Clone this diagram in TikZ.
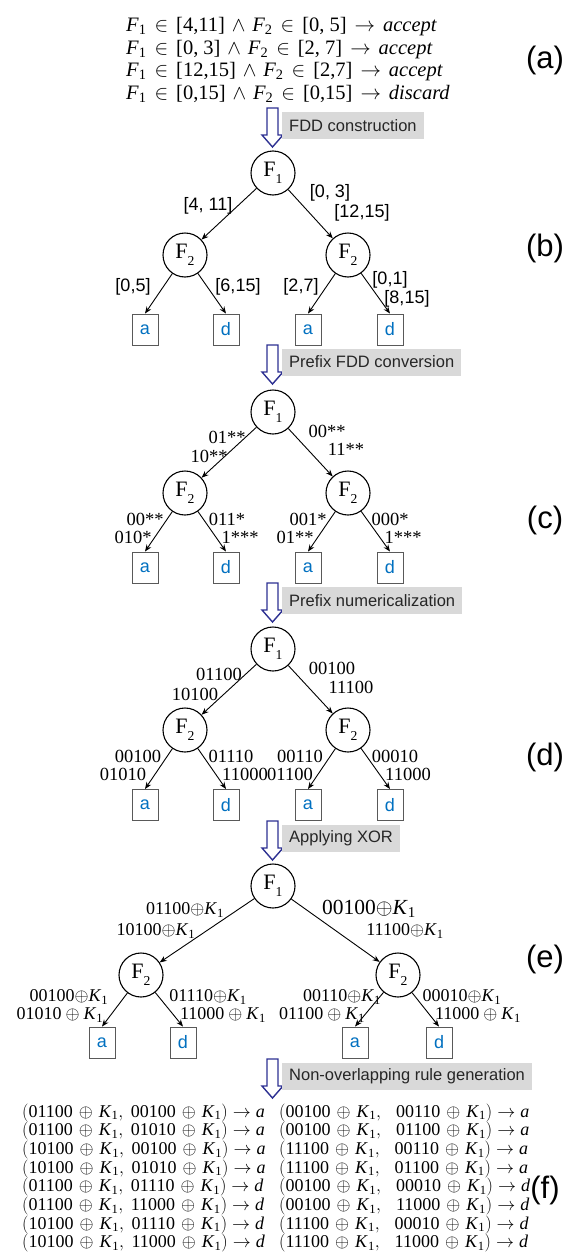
\documentclass[tikz,border=0pt]{standalone}
\usepackage{fix-cm}
\usepackage{amsmath}
\usepackage{fontspec}
\setmainfont{Liberation Serif}
\newfontfamily\sansf{Liberation Sans}
\usetikzlibrary{arrows.meta}
\definecolor{leafblue}{HTML}{0070C0}
\definecolor{lblgray}{HTML}{D9D9D9}
\definecolor{arrblue}{HTML}{2E3192}
\newcommand\sbs[1]{\raisebox{-0.32em}{\scalebox{0.62}{#1}}}
\newcommand\Fr[1]{F\sbs{#1}}
\newcommand\Ka{\text{\textit{K}}_{\text{1}}}
\newcommand\Fa[1]{\text{\textit{F}}_{\text{#1}}}
\newcommand\tx[1]{\text{#1}}
\newcommand\tight[1]{$\tx{#1}{\oplus}\Ka$}
\newcommand\loose[1]{$\tx{#1}\oplus\Ka$}
\newcommand\frule[3]{$\thickmuskip=7mu\medmuskip=6mu\Fa1\in\tx{#1}\wedge\Fa2\in\tx{#2}\rightarrow\tx{\textit{#3}}$}
\newcommand\rrL[3]{$\medmuskip=6mu(\tx{#1}\oplus\Ka,\ \tx{#2}\oplus\Ka)\rightarrow\tx{\textit{#3}}$}
\newcommand\rrR[3]{$\medmuskip=6mu(\tx{#1}\oplus\Ka,\ \ \,\tx{#2}\oplus\Ka)\rightarrow\tx{\textit{#3}}$}
\newcommand\hollow[2]{\coordinate (#1) at (272.5,#2);
  \draw[harr] ([xshift=-5.5pt]#1) -- ++(11,0) -- ++(0,27) -- ++(5,0) -- ++(-10.5,12) -- ++(-10.5,-12) -- ++(5,0) -- cycle;}
\tikzset{
 fn/.style={circle,draw,line width=1.1pt,minimum size=44pt,inner sep=0pt,font=\fontsize{22}{22}\selectfont},
 leaf/.style={draw=black!65,line width=0.9pt,minimum width=26pt,minimum height=31pt,inner sep=0pt,text=leafblue,font=\sansf\fontsize{18}{18}\selectfont},
 edge/.style={line width=0.9pt,-{Stealth[length=7pt,width=5.5pt]}},
 steplbl/.style={fill=lblgray,text=black!85,font=\sansf\fontsize{16.5}{16.5}\selectfont,anchor=west,minimum height=27pt,inner xsep=7pt,inner ysep=0pt},
 harr/.style={draw=arrblue,line width=1.4pt,fill=white,line join=miter},
 sl/.style={font=\sansf\fontsize{18}{18}\selectfont,inner sep=0pt},
 tl/.style={font=\fontsize{18.5}{18.5}\selectfont,inner sep=0pt},
 el/.style={font=\fontsize{18}{18}\selectfont,inner sep=0pt},
 rl/.style={font=\fontsize{20.5}{20.5}\selectfont,anchor=base west,inner sep=0pt},
 fl/.style={font=\fontsize{18}{18}\selectfont,anchor=base west,inner sep=0pt},
 side/.style={font=\sansf\fontsize{31}{31}\selectfont,inner sep=0pt},
}
\begin{document}
\begin{tikzpicture}[x=1pt,y=-1pt]
\fill[white] (0,0) rectangle (575,1258);
\useasboundingbox (0,0) rectangle (575,1258);
% (a)
\node[rl] (r1) at (126,31) {\frule{[4,11]}{[0,\ 5]}{accept}};
\node[rl] (r2) at (126,54) {\frule{[0,\ 3]}{[2,\ 7]}{accept}};
\node[rl] (r3) at (126,76) {\frule{[12,15]}{[2,7]}{accept}};
\node[rl] (r4) at (126,99) {\frule{[0,15]}{[0,15]}{discard}};
\node[side] (la) at (545,60) {(a)};
% arrow 1
\hollow{h1}{108}
\node[steplbl] (s1) at (282,125.5) {FDD construction};
% (b)
\node[fn] (b1) at (273,173) {\Fr{1}};
\node[fn] (b2) at (185,255) {\Fr{2}};
\node[fn] (b3) at (348,255) {\Fr{2}};
\node[leaf] (ba1) at (145,329.5) {a};
\node[leaf] (bd1) at (226,329.5) {d};
\node[leaf] (ba2) at (308,329.5) {a};
\node[leaf] (bd2) at (390,329.5) {d};
\draw[edge] (b1) -- (b2);
\draw[edge] (b1) -- (b3);
\draw[edge] (b2) -- (ba1.north);
\draw[edge] (b2) -- (bd1.north);
\draw[edge] (b3) -- (ba2.north);
\draw[edge] (b3) -- (bd2.north);
\node[sl] at (208,206) {[4, 11]};
\node[sl] at (330,193) {[0, 3]};
\node[sl] at (362,213) {[12,15]};
\node[sl] at (133,287) {[0,5]};
\node[sl] at (238,287) {[6,15]};
\node[sl] at (301,287) {[2,7]};
\node[sl] at (390,280) {[0,1]};
\node[sl] at (407,299) {[8,15]};
\node[side] (lb) at (545,248) {(b)};
% arrow 2
\hollow{h2}{345}
\node[steplbl] (s2) at (282,362) {Prefix FDD conversion};
% (c)
\node[fn] (c1) at (273,412) {\Fr{1}};
\node[fn] (c2) at (185,493) {\Fr{2}};
\node[fn] (c3) at (348,493) {\Fr{2}};
\node[leaf] (ca1) at (145,567.5) {a};
\node[leaf] (cd1) at (226,567.5) {d};
\node[leaf] (ca2) at (308,567.5) {a};
\node[leaf] (cd2) at (390,567.5) {d};
\draw[edge] (c1) -- (c2);
\draw[edge] (c1) -- (c3);
\draw[edge] (c2) -- (ca1.north);
\draw[edge] (c2) -- (cd1.north);
\draw[edge] (c3) -- (ca2.north);
\draw[edge] (c3) -- (cd2.north);
\node[tl] at (227,437) {01**};
\node[tl] at (209,456) {10**};
\node[tl] at (327,431) {00**};
\node[tl] at (346,449) {11**};
\node[tl] at (145,519) {00**};
\node[tl] at (133,537) {010*};
\node[tl] at (227,519) {011*};
\node[tl] at (240,537) {1***};
\node[tl] at (308,519) {001*};
\node[tl] at (295,537) {01**};
\node[tl] at (390,519) {000*};
\node[tl] at (403,537) {1***};
\node[side] (lc) at (545,520) {(c)};
% arrow 3
\hollow{h3}{583}
\node[steplbl] (s3) at (282,600.5) {Prefix numericalization};
% (d)
\node[fn] (d1) at (273,649) {\Fr{1}};
\node[fn] (d2) at (185,730) {\Fr{2}};
\node[fn] (d3) at (348,730) {\Fr{2}};
\node[leaf] (da1) at (145,805) {a};
\node[leaf] (dd1) at (226,805) {d};
\node[leaf] (da2) at (308,805) {a};
\node[leaf] (dd2) at (390,805) {d};
\draw[edge] (d1) -- (d2);
\draw[edge] (d1) -- (d3);
\draw[edge] (d2) -- (da1.north);
\draw[edge] (d2) -- (dd1.north);
\draw[edge] (d3) -- (da2.north);
\draw[edge] (d3) -- (dd2.north);
\node[tl] at (219,674) {01100};
\node[tl] at (195,694) {10100};
\node[tl] at (332,668) {00100};
\node[tl] at (351,687) {11100};
\node[tl] at (138,756) {00100};
\node[tl] at (123,774) {01010};
\node[tl] at (231,756) {01110};
\node[tl] at (245,774) {11000};
\node[tl] at (300,756) {00110};
\node[tl] at (290,774) {01100};
\node[tl] at (395,756) {00010};
\node[tl] at (408,774) {11000};
\node[side] (ld) at (545,757) {(d)};
% arrow 4
\hollow{h4}{821}
\node[steplbl] (s4) at (282,838) {Applying XOR};
% (e)
\node[fn] (e1) at (273,886) {\Fr{1}};
\node[fn] (e2) at (141,975) {\Fr{2}};
\node[fn] (e3) at (398,975) {\Fr{2}};
\node[leaf] (ea1) at (102,1042.5) {a};
\node[leaf] (ed1) at (183,1042.5) {d};
\node[leaf] (ea2) at (355,1042.5) {a};
\node[leaf] (ed2) at (439,1042.5) {d};
\draw[edge] (e1) -- (e2);
\draw[edge] (e1) -- (e3);
\draw[edge] (e2) -- (ea1.north);
\draw[edge] (e2) -- (ed1.north);
\draw[edge] (e3) -- (ea2.north);
\draw[edge] (e3) -- (ed2.north);
\node[el] at (185,910) {\tight{01100}};
\node[el] at (156,931) {\tight{10100}};
\node[font=\fontsize{21.5}{21.5}\selectfont,inner sep=0pt] at (369,909) {\tight{00100}};
\node[el] at (405,931) {\tight{11100}};
\node[el] at (69,997) {\tight{00100}};
\node[el] at (60,1015) {\loose{01010}};
\node[el] at (208,997) {\tight{01110}};
\node[el] at (223,1015) {\loose{11000}};
\node[el] at (342,997) {\tight{00110}};
\node[el] at (322,1015) {\loose{01100}};
\node[el] at (462,997) {\tight{00010}};
\node[el] at (478,1015) {\loose{11000}};
\node[side] (le) at (545,959) {(e)};
% arrow 5
\hollow{h5}{1059}
\node[steplbl] (s5) at (282,1076) {Non-overlapping rule generation};
% (f)
\foreach \a/\b/\r [count=\i] in {01100/00100/a,01100/01010/a,10100/00100/a,10100/01010/a,01100/01110/d,01100/11000/d,10100/01110/d,10100/11000/d}
  {\node[fl] (fL\i) at (22,{1117+18.7*(\i-1)}) {\rrL{\a}{\b}{\r}};}
\foreach \a/\b/\r [count=\i] in {00100/00110/a,00100/01100/a,11100/00110/a,11100/01100/a,00100/00010/d,00100/11000/d,11100/00010/d,11100/11000/d}
  {\node[fl] (fR\i) at (279,{1117+18.7*(\i-1)}) {\rrR{\a}{\b}{\r}};}
\node[side] (lf) at (545,1190) {(f)};
\end{tikzpicture}
\end{document}
